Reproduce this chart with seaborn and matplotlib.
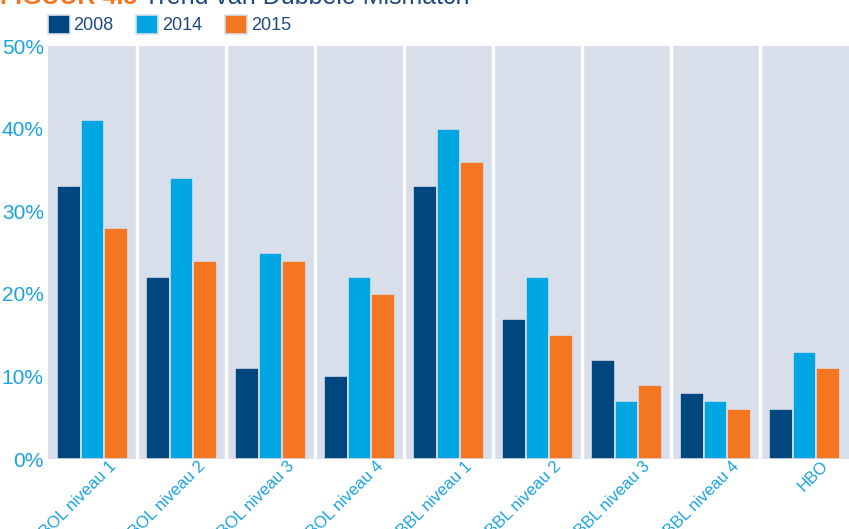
import matplotlib
matplotlib.use("Agg")
import matplotlib.pyplot as plt
import matplotlib.transforms as mtransforms
import pandas as pd
import seaborn as sns

# data (percentages)
categories = ["BOL niveau 1", "BOL niveau 2", "BOL niveau 3", "BOL niveau 4",
              "BBL niveau 1", "BBL niveau 2", "BBL niveau 3", "BBL niveau 4", "HBO"]
years = ["2008", "2014", "2015"]
v2008 = [33, 22, 11, 10, 33, 17, 12, 8, 6]
v2014 = [41, 34, 25, 22, 40, 22, 7, 7, 13]
v2015 = [28, 24, 24, 20, 36, 15, 9, 6, 11]
yticks = [0, 10, 20, 30, 40, 50]

df = pd.DataFrame({
    'Categorie': categories * 3,
    'Jaar': ['2008'] * 9 + ['2014'] * 9 + ['2015'] * 9,
    'Waarde': v2008 + v2014 + v2015,
})

bg = '#d9deeb'
tick_col = '#1aa3e0'
dark = '#1e4a80'
palette = {'2008': '#00467f', '2014': '#00a6e2', '2015': '#f47621'}

sns.set_style('white')
plt.rcParams['font.family'] = ['Liberation Sans', 'DejaVu Sans']

fig = plt.figure(figsize=(8.49, 5.29), dpi=100)
ax = fig.add_axes([0.0565, 0.1323, 0.9435, 0.7807])
ax.set_facecolor(bg)

sns.barplot(data=df, x='Categorie', y='Waarde', hue='Jaar', palette=palette,
            width=0.8, saturation=1, edgecolor=bg, linewidth=1.2, ax=ax, legend=True)

# white separators between groups
for i in range(len(categories) - 1):
    ax.axvline(i + 0.5, color='white', lw=2.5, zorder=0.5)

ax.set_xlim(-0.5, len(categories) - 0.5)
ax.set_ylim(0, 50)
ax.set_yticks(yticks)
ax.set_yticklabels([f'{t}%' for t in yticks])
ax.set_xlabel('')
ax.set_ylabel('')
for s in ax.spines.values():
    s.set_visible(False)
ax.tick_params(axis='both', length=0, colors=tick_col, labelsize=15)
ax.tick_params(axis='y', pad=3)
ax.tick_params(axis='x', labelsize=12, pad=1)
shift = mtransforms.ScaledTranslation(16 / 100, 2 / 100, fig.dpi_scale_trans)
for lab in ax.get_xticklabels():
    lab.set_rotation(45)
    lab.set_ha('right')
    lab.set_rotation_mode('anchor')
    lab.set_transform(lab.get_transform() + shift)

handles, labels = ax.get_legend_handles_labels()
ax.legend_.remove()
leg = fig.legend(handles, labels, loc='lower left', bbox_to_anchor=(0.056, 0.935),
                 ncol=3, frameon=False, fontsize=13, handlelength=1.22, handleheight=1.22,
                 handletextpad=0.22, columnspacing=1.25, borderaxespad=0, borderpad=0)
for t in leg.get_texts():
    t.set_color(dark)

# title, cut off at the top of the picture like the source
t1 = fig.text(0.0, 0.993, 'FIGUUR 4.5', color='#f47621', fontsize=18,
              fontweight='bold', va='baseline')
fig.canvas.draw()
bb = t1.get_window_extent().transformed(fig.transFigure.inverted())
fig.text(bb.x1 + 0.008, 0.993, 'Trend van Dubbele Mismatch', color=dark,
         fontsize=18, va='baseline')

fig.savefig('out.png', dpi=100)
